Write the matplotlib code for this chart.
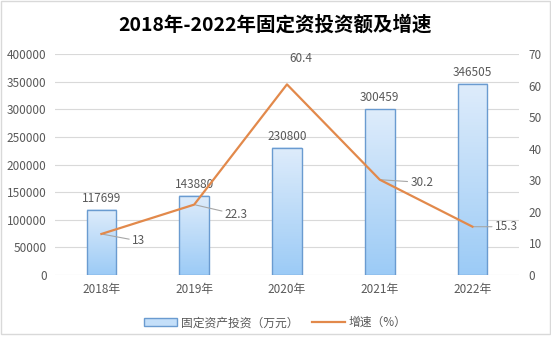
import matplotlib.pyplot as plt
import numpy as np
from matplotlib.colors import LinearSegmentedColormap
from matplotlib.patches import Rectangle
from matplotlib.lines import Line2D

plt.rcParams['font.family'] = ['Noto Sans CJK SC', 'DejaVu Sans']

# data
years = ['2018年', '2019年', '2020年', '2021年', '2022年']
invest = [117699, 143880, 230800, 300459, 346505]
growth = [13, 22.3, 60.4, 30.2, 15.3]
# label offsets in points for the growth labels
growth_offsets = [(22, -5), (22, -7), (10, 14), (22, -2), (16, 0)]

bar_edge = '#6a9bd0'
line_color = '#e2894b'
text_gray = '#595959'

fig = plt.figure(figsize=(5.51, 3.38), dpi=100)
ax = fig.add_axes([0.0998, 0.1864, 0.842, 0.6536])

x = np.arange(len(years))
w = 0.32
cmap = LinearSegmentedColormap.from_list('bluegrad', ['#9ccbf6', '#deecfb'])
grad = np.linspace(0, 1, 100).reshape(-1, 1)
for xi, v in zip(x, invest):
    ax.imshow(grad, extent=[xi - w / 2, xi + w / 2, 0, v], origin='lower',
              aspect='auto', cmap=cmap, zorder=2)
    ax.add_patch(Rectangle((xi - w / 2, 0), w, v, fill=False,
                           edgecolor=bar_edge, linewidth=1, zorder=3))
    ax.text(xi, v + 9000, str(v), ha='center', va='bottom',
            fontsize=8.5, color=text_gray, zorder=4)

ax.set_xlim(-0.5, len(years) - 0.5)
ax.set_ylim(0, 400000)
ax.set_yticks(np.arange(0, 400001, 50000))
ax.set_xticks(x)
ax.set_xticklabels(years)
ax.grid(axis='y', color='#d9d9d9', linewidth=0.8, zorder=0)
ax.set_axisbelow(True)
for s in ax.spines.values():
    s.set_visible(False)
ax.tick_params(length=0, labelsize=8.5, labelcolor=text_gray, pad=6)

ax2 = ax.twinx()
ax2.plot(x, growth, color=line_color, linewidth=1.6, zorder=5)
ax2.set_ylim(0, 70)
ax2.set_yticks(np.arange(0, 71, 10))
for s in ax2.spines.values():
    s.set_visible(False)
ax2.tick_params(length=0, labelsize=8.5, labelcolor=text_gray, pad=7)

for xi, g, off in zip(x, growth, growth_offsets):
    if off[1] > 10:
        ax2.annotate(str(g), (xi, g), xytext=off, textcoords='offset points',
                     ha='center', va='bottom', fontsize=8.5, color=text_gray)
    else:
        ax2.annotate(str(g), (xi, g), xytext=off, textcoords='offset points',
                     ha='left', va='center', fontsize=8.5, color=text_gray,
                     arrowprops=dict(arrowstyle='-', color='#a6a6a6',
                                     linewidth=0.8, shrinkA=0, shrinkB=1))

fig.suptitle('2018年-2022年固定资投资额及增速', x=0.5, y=0.955,
             fontsize=14, fontweight='bold', color='black')

handles = [Rectangle((0, 0), 1, 1, facecolor='#c4dff9', edgecolor=bar_edge),
           Line2D([0], [0], color=line_color, linewidth=1.6)]
fig.legend(handles, ['固定资产投资（万元）', '增速（%）'], loc='center',
           bbox_to_anchor=(0.5, 0.045), ncol=2, frameon=False, fontsize=8.5,
           labelcolor=text_gray, handlelength=2.8, columnspacing=1.2,
           handletextpad=0.3)

fig.patches.append(Rectangle((0.001, 0.012), 0.997, 0.986, transform=fig.transFigure,
                             fill=False, edgecolor='#d9d9d9', linewidth=1))

plt.savefig('out.png', dpi=100)
